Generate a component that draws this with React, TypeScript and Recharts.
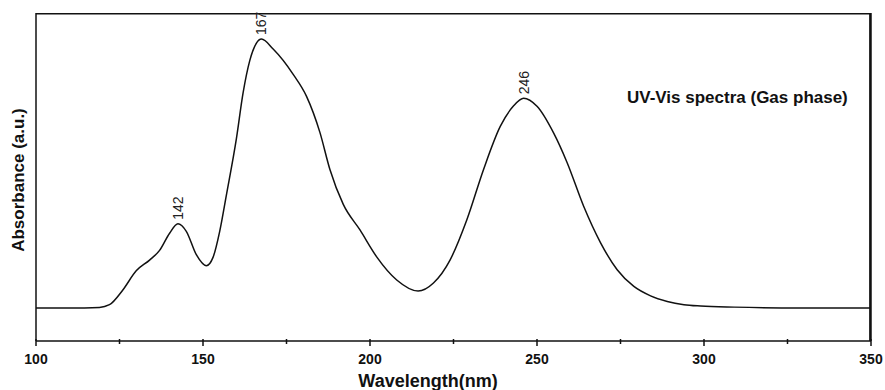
import React from "react";
import { LineChart, Line, XAxis, YAxis, ReferenceDot, ReferenceLine, ReferenceArea } from "recharts";

const wavelengths = [100, 110, 119, 122, 126, 130, 134, 137, 140, 142.5, 145, 148, 151, 153, 155, 157, 160, 162, 164, 166, 167.5, 171, 177, 181, 185, 188, 192, 197, 202, 208, 214.4, 219, 224, 229, 234, 239, 243, 246, 250, 255, 259, 264, 269, 274, 279, 284, 289, 294, 299, 309, 329, 350];
const absorbance = [0, 0, 0.002, 0.012, 0.067, 0.138, 0.178, 0.214, 0.278, 0.313, 0.285, 0.198, 0.157, 0.188, 0.285, 0.42, 0.63, 0.8, 0.92, 0.985, 1.0, 0.963, 0.869, 0.787, 0.653, 0.515, 0.385, 0.29, 0.19, 0.104, 0.063, 0.093, 0.179, 0.328, 0.515, 0.675, 0.752, 0.78, 0.75, 0.65, 0.541, 0.377, 0.243, 0.142, 0.08, 0.045, 0.024, 0.012, 0.007, 0.003, 0, 0];
const xTicks = [100, 125, 150, 175, 200, 225, 250, 275, 300, 325, 350];
const peakLabels = [142, 167, 246];
const X_DOMAIN = [100, 350];
const Y_DOMAIN = [-0.123, 1.097];

const data = wavelengths.map((w, i) => ({ w, a: absorbance[i] }));

const peakPoints = peakLabels.map((p) => {
  let best = data[0];
  data.forEach((d) => {
    if (Math.abs(d.w - p) <= 3 && d.a > best.a) best = d;
  });
  return { label: String(p), w: best.w, a: best.a };
});

const FONT = "'Liberation Sans', Arial, sans-serif";

const XTick = (props: any) => {
  const { x, y, payload } = props;
  const major = payload.value % 50 === 0;
  return (
    <g>
      <line x1={x} x2={x} y1={y - 2} y2={y + (major ? 5 : 3)} stroke="#111" strokeWidth={1.5} />
      {major && (
        <text x={x} y={y + 23} textAnchor="middle" fontFamily={FONT} fontWeight="bold" fontSize={14} fill="#111">
          {payload.value}
        </text>
      )}
    </g>
  );
};

const PeakLabel = (label: string) => (props: any) => {
  const vb = props.viewBox || {};
  const cx = vb.x + (vb.width || 0) / 2;
  const cy = vb.y + (vb.height || 0) / 2;
  const tx = cx;
  const ty = cy - 4;
  return (
    <text
      x={tx}
      y={ty}
      dy={5}
      transform={`rotate(-90 ${tx} ${ty})`}
      textAnchor="start"
      fontFamily={FONT}
      fontSize={14}
      fill="#222"
    >
      {label}
    </text>
  );
};

const TitleLabel = () => (
  <text x={627} y={103} fontFamily={FONT} fontWeight="bold" fontSize={17} fill="#111">
    UV-Vis spectra (Gas phase)
  </text>
);

export default function App() {
  return (
    <div style={{ position: "absolute", left: 0, top: 0, background: "#fff" }}>
      <LineChart width={885} height={390} data={data} margin={{ top: 13, right: 13, bottom: 0, left: 0 }}>
        <XAxis
          dataKey="w"
          type="number"
          domain={X_DOMAIN}
          ticks={xTicks}
          interval={0}
          height={49}
          tickSize={0}
          tickMargin={0}
          tickLine={false}
          axisLine={{ stroke: "#111", strokeWidth: 1.5 }}
          tick={<XTick />}
          label={{
            content: () => (
              <text x={428} y={387} textAnchor="middle" fontFamily={FONT} fontWeight="bold" fontSize={18} fill="#111">
                Wavelength(nm)
              </text>
            ),
          }}
        />
        <YAxis
          type="number"
          domain={Y_DOMAIN}
          width={36}
          tick={false}
          axisLine={{ stroke: "#111", strokeWidth: 1.5 }}
          label={{
            content: () => (
              <text
                x={18}
                y={180}
                dy={6}
                transform="rotate(-90 18 180)"
                textAnchor="middle"
                fontFamily={FONT}
                fontWeight="bold"
                fontSize={17}
                fill="#111"
              >
                Absorbance (a.u.)
              </text>
            ),
          }}
        />
        <YAxis
          yAxisId="right"
          orientation="right"
          type="number"
          domain={Y_DOMAIN}
          width={1}
          tick={false}
          axisLine={{ stroke: "#111", strokeWidth: 1.5 }}
        />
        <ReferenceLine y={1.094} stroke="#111" strokeWidth={1.5} ifOverflow="visible" />
        <ReferenceLine x={349.7} stroke="#111" strokeWidth={1.5} ifOverflow="visible" />
        <ReferenceArea
          x1={349.55}
          x2={350}
          y1={Y_DOMAIN[0]}
          y2={1.094}
          fill="#111"
          fillOpacity={1}
          stroke="none"
          ifOverflow="visible"
        />
        <Line
          type="monotone"
          dataKey="a"
          stroke="#111"
          strokeWidth={1.5}
          dot={false}
          isAnimationActive={false}
        />
        {peakPoints.map((p) => (
          <ReferenceDot
            key={p.label}
            x={p.w}
            y={p.a}
            r={0}
            stroke="none"
            fill="none"
            ifOverflow="visible"
            label={{ content: PeakLabel(p.label) }}
          />
        ))}
        <ReferenceDot
          x={300}
          y={0.8}
          r={0}
          stroke="none"
          fill="none"
          ifOverflow="visible"
          label={{ content: TitleLabel }}
        />
      </LineChart>
    </div>
  );
}
